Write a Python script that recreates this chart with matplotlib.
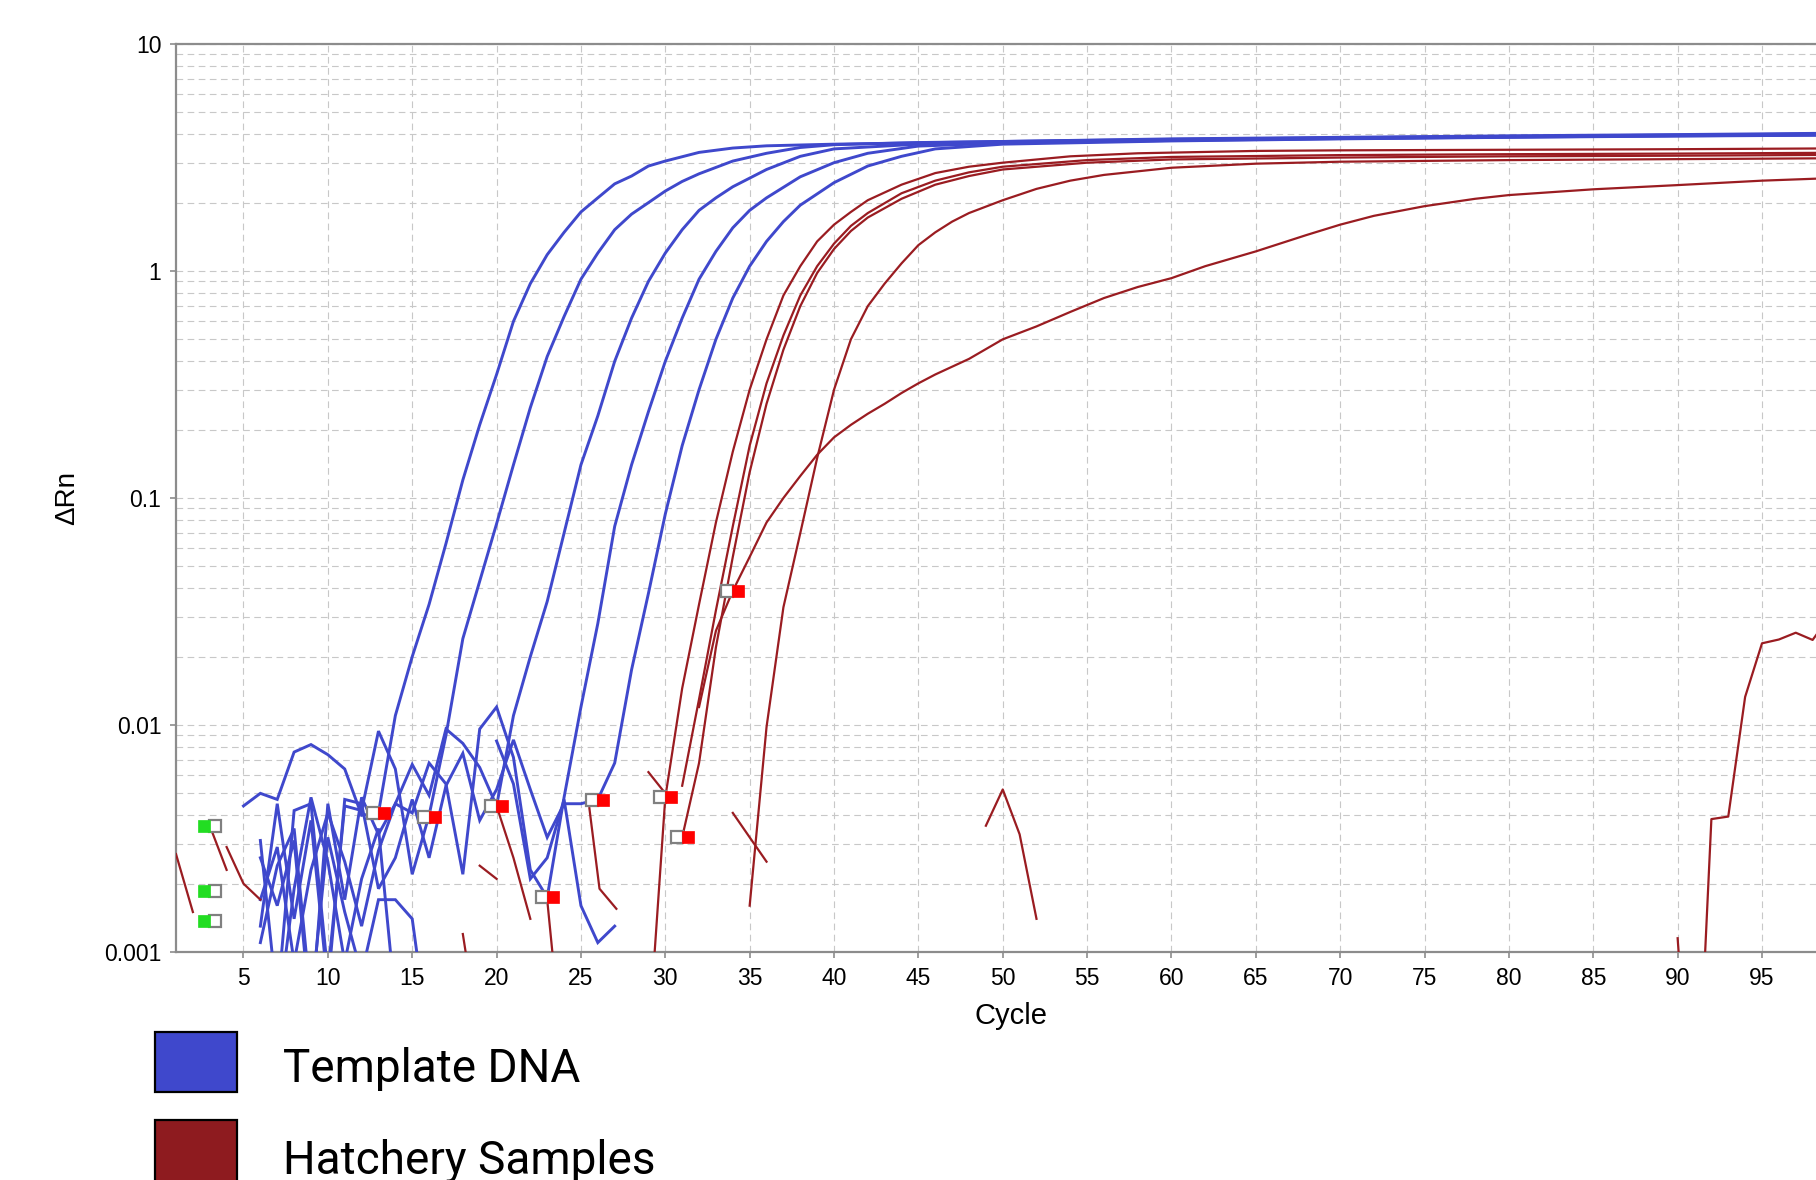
import numpy as np
import matplotlib
matplotlib.use("Agg")
import matplotlib.pyplot as plt
from matplotlib.patches import Rectangle
from matplotlib.transforms import ScaledTranslation
from matplotlib.ticker import FixedLocator, LogLocator, NullFormatter

nan = np.nan

# ---------------- data (cycle, ΔRn) ----------------
# Template DNA (blue) wells
blue1_cycles = [5, 6, 7, 8, 9, 10, 11, 12, 13, 14, 15, 16, 17, 18, 19, 20, 21, 22, 23, 24, 25, 26, 27, 28, 29, 30, 32, 34, 36, 40, 50, 60, 70, 80, 90, 100]
blue1_values = [0.0044, 0.0050, 0.0047, 0.0076, 0.0082, 0.0074, 0.0064, 0.0040, 0.0041, 0.011, 0.020, 0.034, 0.063, 0.12, 0.21, 0.35, 0.60, 0.88, 1.18, 1.48, 1.82, 2.10, 2.42, 2.62, 2.90, 3.05, 3.33, 3.48, 3.56, 3.62, 3.72, 3.82, 3.88, 3.94, 3.99, 4.05]

blue2_cycles = [6, 7, 8, 9, 10, 11, 12, 13, 14, 15, 16, 17, 18, 19, 20, 21, 22, 23, 24, 25, 26, 27, 28, 29, 30, 31, 32, 34, 36, 38, 40, 45, 50, 60, 70, 80, 90, 100]
blue2_values = [0.0031, 0.0006, 0.0042, 0.0045, 0.0008, 0.0044, 0.0042, 0.0094, 0.0064, 0.0022, 0.0040, 0.009, 0.024, 0.043, 0.077, 0.14, 0.25, 0.42, 0.63, 0.92, 1.2, 1.52, 1.78, 2.0, 2.25, 2.48, 2.68, 3.05, 3.3, 3.5, 3.6, 3.68, 3.72, 3.8, 3.86, 3.92, 3.97, 4.02]

blue3_cycles = [6, 7, 8, 9, 10, 11, 12, 13, 14, 15, 16, 17, 18, 19, 20, 21, 22, 23, 24, 25, 26, 27, 28, 29, 30, 31, 32, 33, 34, 36, 38, 40, 45, 50, 60, 70, 80, 90, 100]
blue3_values = [0.0026, 0.0016, 0.0031, 0.0005, 0.0045, 0.0017, 0.0048, 0.0033, 0.0045, 0.0067, 0.0049, 0.0096, 0.0083, 0.0065, 0.0044, 0.011, 0.020, 0.035, 0.070, 0.14, 0.23, 0.40, 0.62, 0.90, 1.2, 1.52, 1.85, 2.1, 2.35, 2.8, 3.2, 3.45, 3.62, 3.7, 3.78, 3.84, 3.9, 3.95, 4.0]

blue4_cycles = [6, 7, 8, 9, 10, 11, 12, 13, 14, 15, 16, 17, 18, 19, 20, 21, 22, 23, 24, 25, 26, 27, 28, 29, 30, 31, 32, 33, 34, 35, 36, 38, 40, 42, 45, 50, 60, 70, 80, 90, 100]
blue4_values = [0.0017, 0.0029, 0.0009, 0.0023, 0.0041, 0.0025, 0.0013, 0.0028, 0.0045, 0.0041, 0.0068, 0.0055, 0.0022, 0.0096, 0.0120, 0.0072, 0.0023, 0.00174, 0.0048, 0.012, 0.028, 0.075, 0.14, 0.24, 0.40, 0.62, 0.92, 1.22, 1.55, 1.85, 2.1, 2.6, 3.0, 3.3, 3.55, 3.66, 3.76, 3.83, 3.89, 3.94, 3.98]

blue5_cycles = [6, 7, 8, 9, 10, 11, 12, 13, 14, 15, 16, 17, 18, 19, 20, 21, 22, 23, 24, 25, 26, 27, 28, 29, 30, 31, 32, 33, 34, 35, 36, 37, 38, 40, 42, 44, 46, 50, 60, 70, 80, 90, 100]
blue5_values = [0.0013, 0.0045, 0.0014, 0.0038, 0.0007, 0.0047, 0.0045, 0.0019, 0.0026, 0.0047, 0.0026, 0.0054, 0.0075, 0.0038, 0.0052, 0.0086, 0.0052, 0.0032, 0.0045, 0.0045, 0.0047, 0.0068, 0.0175, 0.038, 0.085, 0.17, 0.30, 0.50, 0.76, 1.05, 1.35, 1.65, 1.95, 2.45, 2.9, 3.2, 3.45, 3.62, 3.74, 3.82, 3.88, 3.93, 3.97]

blue6_cycles = [6, 7, 8, 9, 10, 11, 12, 13, 14, 15, 16, 17, 18, 19, 20, 21, 22, 23, 24, 25, 26, 27]
blue6_values = [0.0011, 0.0024, 0.0035, 0.0006, 0.0032, 0.0015, 0.0008, 0.0017, 0.0017, 0.0014, 0.0004, nan, nan, nan, 0.0085, 0.0055, 0.0021, 0.0026, 0.0047, 0.0016, 0.0011, 0.0013]

blue7_cycles = [7, 8, 9, 10, 11, 12, 13, 14]
blue7_values = [0.0005, 0.0019, 0.0048, 0.0025, 0.0009, 0.0021, 0.0035, 0.0006]

# Hatchery samples (red) wells
red1_cycles = [29, 30, 31, 32, 33, 34, 35, 36, 37, 38, 39, 40, 41, 42, 44, 46, 48, 50, 54, 58, 65, 70, 80, 90, 100]
red1_values = [0.0004, 0.0048, 0.0145, 0.034, 0.078, 0.16, 0.30, 0.50, 0.78, 1.05, 1.35, 1.6, 1.82, 2.05, 2.4, 2.7, 2.88, 3.0, 3.2, 3.3, 3.38, 3.4, 3.42, 3.44, 3.47]

red2_cycles = [31, 32, 33, 34, 35, 36, 37, 38, 39, 40, 41, 42, 44, 46, 48, 50, 55, 60, 70, 80, 90, 100]
red2_values = [0.0054, 0.013, 0.032, 0.075, 0.17, 0.32, 0.52, 0.78, 1.05, 1.32, 1.58, 1.8, 2.2, 2.5, 2.72, 2.88, 3.08, 3.18, 3.24, 3.27, 3.29, 3.32]

red3_cycles = [31, 32, 33, 34, 35, 36, 37, 38, 39, 40, 41, 42, 44, 46, 48, 50, 55, 60, 70, 80, 90, 100]
red3_values = [0.0032, 0.0068, 0.022, 0.055, 0.13, 0.26, 0.45, 0.70, 0.98, 1.25, 1.5, 1.72, 2.08, 2.4, 2.62, 2.8, 3.0, 3.1, 3.16, 3.2, 3.22, 3.25]

red4_cycles = [35, 36, 37, 38, 39, 40, 41, 42, 43, 44, 45, 46, 47, 48, 50, 52, 54, 56, 60, 65, 70, 80, 90, 100]
red4_values = [0.0016, 0.0098, 0.033, 0.070, 0.15, 0.30, 0.50, 0.70, 0.88, 1.08, 1.3, 1.48, 1.65, 1.8, 2.05, 2.3, 2.5, 2.65, 2.85, 2.97, 3.03, 3.08, 3.11, 3.14]

red5_cycles = [32, 33, 34, 35, 36, 37, 38, 39, 40, 41, 42, 43, 44, 45, 46, 48, 50, 52, 54, 56, 58, 60, 62, 65, 68, 70, 72, 75, 78, 80, 85, 90, 95, 100]
red5_values = [0.012, 0.026, 0.039, 0.055, 0.078, 0.10, 0.125, 0.155, 0.185, 0.21, 0.235, 0.26, 0.29, 0.32, 0.35, 0.41, 0.50, 0.57, 0.66, 0.76, 0.85, 0.93, 1.05, 1.22, 1.44, 1.6, 1.75, 1.93, 2.08, 2.16, 2.29, 2.39, 2.5, 2.58]

red6_cycles = [90, 91, 92, 93, 94, 95, 96, 97, 98, 99, 100]
red6_values = [0.00115, 0.0001, 0.00385, 0.00395, 0.0133, 0.0229, 0.0238, 0.0255, 0.0237, 0.030, 0.034]

# short red baseline fragments
redn_cycles = [[1, 2], [3, 4], [4, 5, 6], [18, 19], [19, 20], [20, 21, 22], [23, 24],
               [25.5, 26.1, 27.1], [29, 30], [34, 35, 36], [49, 50, 51, 52]]
redn_values = [[0.0027, 0.0015], [0.0036, 0.0023], [0.0029, 0.0020, 0.0017], [0.0012, 0.0004],
               [0.0024, 0.0021], [0.0044, 0.0026, 0.0014], [0.0017, 0.0003],
               [0.0043, 0.0019, 0.00155], [0.0062, 0.0050], [0.0041, 0.0032, 0.0025],
               [0.0036, 0.0052, 0.0033, 0.0014]]

# baseline markers
start_cycles = [3, 3, 3]
start_values = [0.0036, 0.00186, 0.00137]
end_cycles = [13, 16, 20, 23, 26, 30, 31, 34]
end_values = [0.0041, 0.00395, 0.0044, 0.00174, 0.00465, 0.0048, 0.0032, 0.039]

x_ticks = [5, 10, 15, 20, 25, 30, 35, 40, 45, 50, 55, 60, 65, 70, 75, 80, 85, 90, 95]
y_ticks = [0.001, 0.01, 0.1, 1, 10]
y_tick_labels = ["0.001", "0.01", "0.1", "1", "10"]
legend_labels = ["Template DNA", "Hatchery Samples"]

BLUE = "#3F48CC"
RED = "#9A1C21"
RED_LEG = "#8E1B1F"
GREY = "#8C8C8C"

# ---------------- figure ----------------
fig = plt.figure(figsize=(18.16, 11.8), dpi=100)
ax = fig.add_axes([0.09692, 0.19322, 0.9198, 0.7695])
ax.set_yscale("log")
ax.set_xlim(1, 100)
ax.set_ylim(0.001, 10)

blue_sets = [(blue1_cycles, blue1_values), (blue2_cycles, blue2_values), (blue3_cycles, blue3_values),
             (blue4_cycles, blue4_values), (blue5_cycles, blue5_values), (blue6_cycles, blue6_values),
             (blue7_cycles, blue7_values)]
for cx, vy in blue_sets:
    ax.plot(cx, vy, color=BLUE, lw=2.1, zorder=3, solid_joinstyle="miter")

red_sets = [(red1_cycles, red1_values), (red2_cycles, red2_values), (red3_cycles, red3_values),
            (red4_cycles, red4_values), (red5_cycles, red5_values), (red6_cycles, red6_values)]
for cx, vy in red_sets:
    ax.plot(cx, vy, color=RED, lw=1.6, zorder=3)
for cx, vy in zip(redn_cycles, redn_values):
    ax.plot(cx, vy, color=RED, lw=1.6, zorder=3)

# markers: coloured square and grey hollow square side by side at the point
left = ax.transData + ScaledTranslation(-0.055, 0, fig.dpi_scale_trans)
right = ax.transData + ScaledTranslation(0.055, 0, fig.dpi_scale_trans)
ax.plot(start_cycles, start_values, ls="none", marker="s", ms=8, mfc="white", mec="#808080",
        mew=1.6, transform=right, zorder=5, clip_on=False)
ax.plot(start_cycles, start_values, ls="none", marker="s", ms=8.2, mfc="#22DD22", mec="#22DD22",
        mew=0.5, transform=left, zorder=6, clip_on=False)
ax.plot(end_cycles, end_values, ls="none", marker="s", ms=8, mfc="white", mec="#808080",
        mew=1.6, transform=left, zorder=5)
ax.plot(end_cycles, end_values, ls="none", marker="s", ms=8.2, mfc="#FF0000", mec="#FF0000",
        mew=0.5, transform=right, zorder=6)

# grid / axes style
ax.xaxis.set_major_locator(FixedLocator(x_ticks))
ax.set_yticks(y_ticks)
ax.set_yticklabels(y_tick_labels)
ax.yaxis.set_minor_locator(LogLocator(base=10, subs=np.arange(2, 10)))
ax.yaxis.set_minor_formatter(NullFormatter())
ax.grid(True, which="major", axis="x", color="#C8C8C8", lw=0.8, ls=(0, (6, 4)), zorder=0)
ax.grid(True, which="both", axis="y", color="#C8C8C8", lw=0.8, ls=(0, (6, 4)), zorder=0)
ax.set_axisbelow(True)
for s in ["left", "bottom", "top"]:
    ax.spines[s].set_color(GREY)
    ax.spines[s].set_linewidth(1.6)
ax.spines["right"].set_visible(False)
ax.tick_params(axis="both", which="major", length=4.5, width=1.2, color=GREY,
               labelsize=16.5, labelcolor="black", pad=6)
ax.tick_params(axis="y", which="minor", length=0)
for lab in ax.get_xticklabels() + ax.get_yticklabels():
    lab.set_family(["Liberation Sans", "DejaVu Sans"])

fig.text(1011 / 1816, 1 - 1016 / 1180, "Cycle", ha="center", va="center", fontsize=21,
         family=["Liberation Sans", "DejaVu Sans"])
fig.text(67 / 1816, 1 - 498 / 1180, "ΔRn", ha="center", va="center", rotation=90, fontsize=20,
         family=["Liberation Sans", "DejaVu Sans"])

# legend drawn as boxes + text
fig.patches.append(Rectangle((155 / 1816, 1 - 1092 / 1180), 82 / 1816, 60 / 1180,
                             transform=fig.transFigure, facecolor=BLUE, edgecolor="black", lw=1.6))
fig.patches.append(Rectangle((155 / 1816, -0.01), 82 / 1816, 1 - 1120 / 1180 + 0.01,
                             transform=fig.transFigure, facecolor=RED_LEG, edgecolor="black", lw=1.6))
fig.text(283 / 1816, 1 - 1082 / 1180, legend_labels[0], ha="left", va="baseline", fontsize=33,
         family=["Roboto", "DejaVu Sans"])
fig.text(283 / 1816, 1 - 1174 / 1180, legend_labels[1], ha="left", va="baseline", fontsize=33,
         family=["Roboto", "DejaVu Sans"])

fig.savefig("out.png", dpi=100)
